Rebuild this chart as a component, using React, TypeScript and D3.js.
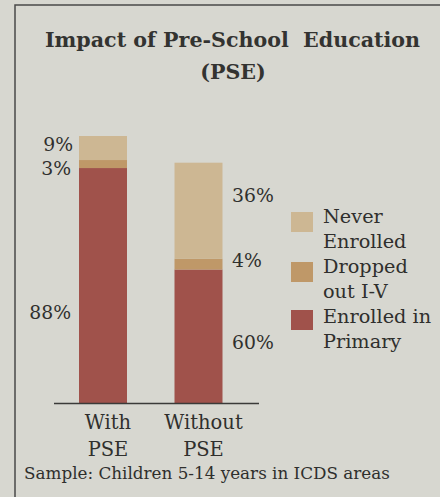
import { useEffect, useRef } from 'react'
import * as d3 from 'd3'

// categories and stacked segments (bottom to top)
const categories = ['With PSE', 'Without PSE']
const categoryLines = [['With', 'PSE'], ['Without', 'PSE']]
const segments = ['Enrolled in Primary', 'Dropped out I-V', 'Never Enrolled']
const legendLines = [['Never', 'Enrolled'], ['Dropped', 'out I-V'], ['Enrolled in', 'Primary']]

// drawn heights
const withPse = [88, 3, 9]
const withoutPse = [50, 4, 36]
// printed labels
const withLabels = ['88%', '3%', '9%']
const withoutLabels = ['60%', '4%', '36%']

const colors = ['#a0524b', '#bf9868', '#cdb793']

export default function App() {
  const svgRef = useRef<SVGSVGElement>(null)

  useEffect(() => {
    if (!svgRef.current) return
    const width = 440
    const height = 497
    const font = '"DejaVu Serif", serif'
    const ink = '#2f2f2d'

    const root = d3.select(svgRef.current)
    root.selectAll('*').remove()

    root.append('rect').attr('width', width).attr('height', height).attr('fill', '#d7d7d0')

    // frame
    root.append('path')
      .attr('d', `M15,${height} L15,5 L${width},5`)
      .attr('fill', 'none')
      .attr('stroke', '#4a4a48')
      .attr('stroke-width', 1.5)

    // title
    const title = root.append('text')
      .attr('text-anchor', 'middle')
      .attr('font-family', font)
      .attr('font-weight', 'bold')
      .attr('font-size', 20.6)
      .attr('fill', '#333331')
    title.append('tspan').attr('x', 232.5).attr('y', 47).text('Impact of Pre-School\u00a0 Education')
    title.append('tspan').attr('x', 233).attr('y', 79).text('(PSE)')

    const bw = 48
    const y = d3.scaleLinear().domain([0, 100]).range([403, 136])

    const rows = [withPse, withoutPse]
    const table = categories.map((c, i) => {
      const r: any = { cat: c }
      segments.forEach((s, j) => { r[s] = rows[i][j] })
      return r
    })
    const stack = d3.stack().keys(segments)(table)

    const x = d3.scalePoint().domain(categories).range([103, 198.5])
    const cx = (i: number) => x(categories[i]) as number

    stack.forEach((layer, j) => {
      root.append('g').selectAll('rect')
        .data(layer)
        .join('rect')
        .attr('x', (_d, i) => cx(i) - bw / 2)
        .attr('width', bw)
        .attr('y', d => y(d[1]))
        .attr('height', d => y(d[0]) - y(d[1]))
        .attr('fill', colors[j])
    })

    // baseline
    root.append('line')
      .attr('x1', 54).attr('x2', 259)
      .attr('y1', y(0) + 0.5).attr('y2', y(0) + 0.5)
      .attr('stroke', '#3a3a38').attr('stroke-width', 1.5)

    const labelSize = 18.8

    // value labels, With PSE (left of bar)
    const withY = [312, 168, 144]
    withLabels.forEach((t, j) => {
      root.append('text')
        .attr('x', j === 2 ? 73 : 71)
        .attr('y', withY[j])
        .attr('dy', '0.35em')
        .attr('text-anchor', 'end')
        .attr('font-family', font).attr('font-size', labelSize).attr('fill', ink)
        .text(t)
    })
    // value labels, Without PSE (right of bar)
    const withoutY = [342, 260, 195]
    withoutLabels.forEach((t, j) => {
      root.append('text')
        .attr('x', 232)
        .attr('y', withoutY[j])
        .attr('dy', '0.35em')
        .attr('font-family', font).attr('font-size', labelSize).attr('fill', ink)
        .text(t)
    })

    // category labels
    categoryLines.forEach((lines, i) => {
      lines.forEach((l, k) => {
        root.append('text')
          .attr('x', cx(i) + 5)
          .attr('y', 429 + k * 27)
          .attr('text-anchor', 'middle')
          .attr('font-family', font).attr('font-size', 19.5).attr('fill', ink)
          .text(l)
      })
    })

    // legend
    const swatchY = [212, 262, 310]
    legendLines.forEach((lines, j) => {
      const col = colors[2 - j]
      root.append('rect')
        .attr('x', 291).attr('y', swatchY[j])
        .attr('width', 22).attr('height', 20)
        .attr('fill', col)
      lines.forEach((l, k) => {
        root.append('text')
          .attr('x', 323)
          .attr('y', 223 + j * 50 + k * 25)
          .attr('font-family', font).attr('font-size', 19.3).attr('fill', ink)
          .text(l)
      })
    })

    // caption
    root.append('text')
      .attr('x', 24).attr('y', 479)
      .attr('font-family', font).attr('font-size', 16.8).attr('fill', ink)
      .text('Sample: Children 5-14 years in ICDS areas')
  }, [])

  return (
    <svg ref={svgRef} width={440} height={497}
      style={{ position: 'absolute', left: 0, top: 0, display: 'block' }} />
  )
}
